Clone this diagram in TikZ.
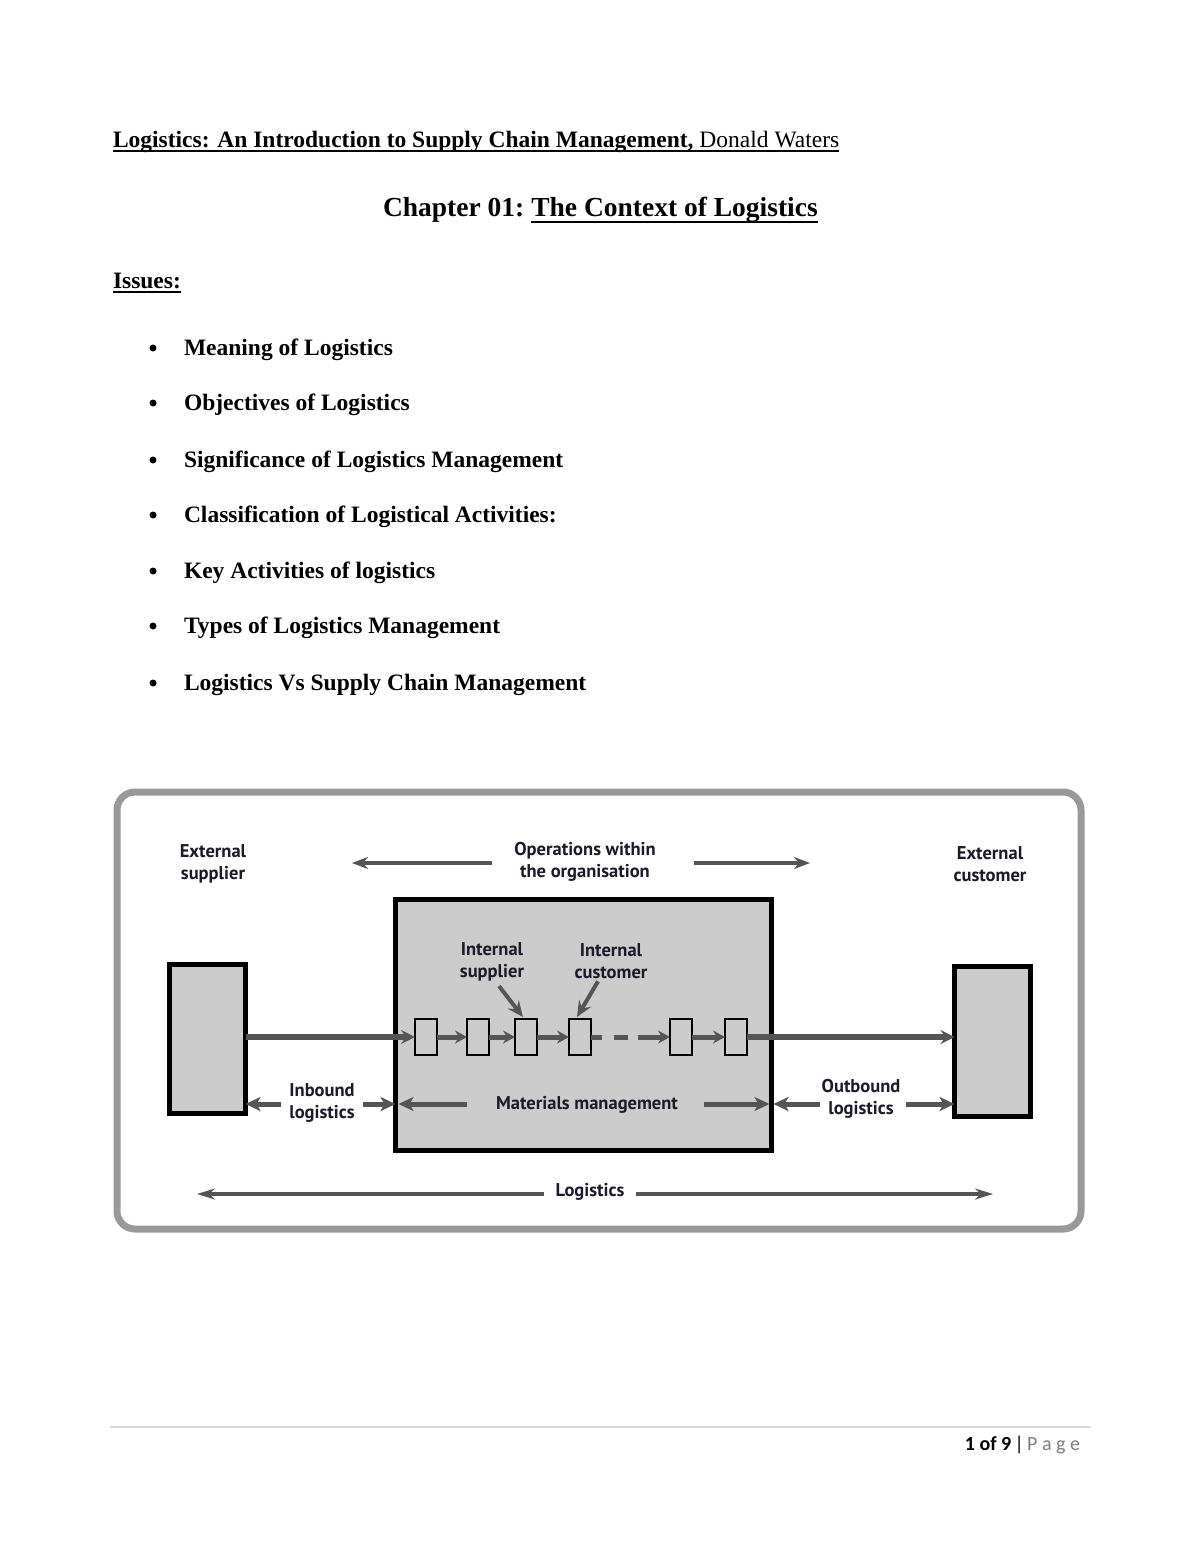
\documentclass[tikz,border=0pt]{standalone}
\usepackage{fontspec}
\setmainfont{Liberation Serif}
\newfontfamily\diagfont{PT Sans}
\newfontfamily\footfont{Carlito}
\usetikzlibrary{arrows.meta,calc}
\definecolor{framegray}{HTML}{999999}
\definecolor{boxgray}{HTML}{CCCCCC}
\definecolor{arrgray}{HTML}{555555}
\definecolor{txtdark}{HTML}{1A1A2A}
\definecolor{footline}{HTML}{D9D9D9}
\definecolor{footgray}{HTML}{7F7F7F}
\tikzset{
  hdr/.style={inner sep=0pt, outer sep=0pt, anchor=base west, font=\fontsize{23.5}{26}\selectfont\bfseries},
  ulline/.style={line width=1.6pt, black},
  bulletdot/.style={circle, fill=black, inner sep=0pt, minimum size=7pt},
  dlabel/.style={inner sep=0pt, outer sep=0pt, align=center, text=txtdark, font=\diagfont\bfseries\fontsize{18.5}{21.5}\selectfont},
  bigbox/.style={draw=black, fill=boxgray, line width=5pt, inner sep=0pt, outer sep=0pt},
  smallbox/.style={draw=black, fill=boxgray, line width=2.5pt, inner sep=0pt, outer sep=0pt, minimum width=22pt, minimum height=36pt},
  mainflow/.style={draw=arrgray, line width=6pt, -{Stealth[length=14pt, width=14pt, inset=5pt]}},
  chainflow/.style={draw=arrgray, line width=5pt, -{Stealth[length=12pt, width=13pt, inset=4pt]}},
  plainseg/.style={draw=arrgray, line width=5pt},
  midflow/.style={draw=arrgray, line width=5pt, -{Stealth[length=15pt, width=14pt, inset=4pt]}},
  topflow/.style={draw=arrgray, line width=4.5pt, -{Stealth[length=16pt, width=12pt, inset=5pt]}},
  pointer/.style={draw=arrgray, line width=4pt, -{Stealth[length=16pt, width=14pt, inset=6pt]}},
  logflow/.style={draw=arrgray, line width=3.5pt, -{Stealth[length=18pt, width=11pt, inset=6pt]}},
}
\begin{document}
\begin{tikzpicture}[x=1pt,y=-1pt]
\useasboundingbox[fill=white] (0,0) rectangle (1200,1553);

% ---------- header ----------
\node[hdr] (book) at (113,147) {Logistics: An Introduction to Supply Chain Management, \mdseries Donald Waters};
\draw[ulline] ([yshift=-4pt]book.base west) -- ([yshift=-4pt]book.base east);

\node[hdr, font=\fontsize{27.5}{31}\selectfont\bfseries] (chap) at (383,216) {Chapter 01:};
\node[hdr, font=\fontsize{27.5}{31}\selectfont\bfseries] (ctx) at ([xshift=7pt]chap.base east) {The Context of Logistics};
\draw[ulline, line width=2.2pt] ([yshift=-6pt]ctx.base west) -- ([yshift=-6pt]ctx.base east);

\node[hdr] (issues) at (113,288) {Issues:};
\draw[ulline] ([yshift=-4pt]issues.base west) -- ([yshift=-4pt]issues.base east);

% ---------- bullets ----------
\foreach \i/\t/\yy in {1/Meaning of Logistics/355, 2/Objectives of Logistics/410, 3/Significance of Logistics Management/467, 4/Classification of Logistical Activities:/522, 5/Key Activities of logistics/578, 6/Types of Logistics Management/633, 7/Logistics Vs Supply Chain Management/690}{
  \node[bulletdot] (dot\i) at (153,\yy-7) {};
  \node[hdr] (item\i) at (184,\yy) {\t};
}

% ---------- diagram frame ----------
\draw[framegray, line width=7pt, rounded corners=18pt] (117,792) rectangle (1081,1229);

% boxes
\node[bigbox, minimum width=376pt, minimum height=251pt] (org) at (583.5,1025) {};
\node[bigbox, minimum width=76pt, minimum height=149pt] (sup) at (207.5,1039) {};
\node[bigbox, minimum width=76pt, minimum height=150pt] (cus) at (992.5,1041.5) {};

\foreach \n/\xx in {1/426, 2/478, 3/526, 4/580, 5/681, 6/736}{
  \node[smallbox] (b\n) at (\xx,1037) {};
}

% labels
\node[dlabel] (extsup) at (213,864) {External\\supplier};
\node[dlabel] (ops) at (585,862) {Operations within\\the organisation};
\node[dlabel] (extcus) at (990,864) {External\\customer};
\node[dlabel] (isup) at (492,962) {Internal\\supplier};
\node[dlabel] (icus) at (611,961) {Internal\\customer};
\node[dlabel] (inb) at (322,1103) {Inbound\\logistics};
\node[dlabel] (mat) at (587,1105) {Materials management};
\node[dlabel] (outb) at (861,1099) {Outbound\\logistics};
\node[dlabel] (logi) at (590,1192) {Logistics};

% top arrows
\coordinate (opsL) at (352,863);
\coordinate (opsR) at (810,863);
\draw[topflow] (ops.west |- opsL) ++(-22,0) -- (opsL);
\draw[topflow] (ops.east |- opsR) ++(38,0) -- (opsR);

% main flow
\draw[mainflow] (sup.east |- b1.west) -- (b1.west);
\draw[chainflow] (b1.east) -- (b2.west);
\draw[chainflow] (b2.east) -- (b3.west);
\draw[chainflow] (b3.east) -- (b4.west);
\draw[plainseg] (b4.east) -- ++(11,0);
\draw[plainseg] ($(b4.east)+(23,0)$) -- ++(14,0);
\draw[chainflow] ($(b4.east)+(47,0)$) -- (b5.west);
\draw[chainflow] (b5.east) -- (b6.west);
\draw[mainflow] (b6.east) -- (cus.west |- b6.east);

% pointers
\draw[pointer] ([xshift=7pt,yshift=-5pt]isup.south) -- ([xshift=-3pt,yshift=2pt]b3.north);
\draw[pointer] ([xshift=-13pt,yshift=-3pt]icus.south) -- ([xshift=-3pt,yshift=2pt]b4.north);

% lower row arrows
\coordinate (rowy) at (0,1104);
\draw[midflow] ([xshift=-8pt]inb.west |- rowy) -- (sup.east |- rowy);
\draw[midflow] ([xshift=8pt]inb.east |- rowy) -- (org.west |- rowy);
\draw[midflow] ([xshift=-29pt]mat.west |- rowy) -- ([xshift=3pt]org.west |- rowy);
\draw[midflow] ([xshift=26pt]mat.east |- rowy) -- ([xshift=-2pt]org.east |- rowy);
\draw[midflow] ([xshift=-2pt]outb.west |- rowy) -- ([xshift=2pt]org.east |- rowy);
\draw[midflow] ([xshift=6pt]outb.east |- rowy) -- (cus.west |- rowy);

% logistics arrows
\coordinate (logL) at (197,1194);
\coordinate (logR) at (993,1194);
\draw[logflow] ([xshift=-12pt]logi.west |- logL) -- (logL);
\draw[logflow] ([xshift=12pt]logi.east |- logR) -- (logR);

% ---------- footer ----------
\draw[footline, line width=2pt] (110,1427) -- (1091,1427);
\node[inner sep=0pt, outer sep=0pt, anchor=base east, font=\footfont\fontsize{20}{24}\selectfont] (pg) at (1080,1450) {\textbf{1 of 9}\,|\,\textcolor{footgray}{P\ a\ g\ e}};
\end{tikzpicture}
\end{document}
